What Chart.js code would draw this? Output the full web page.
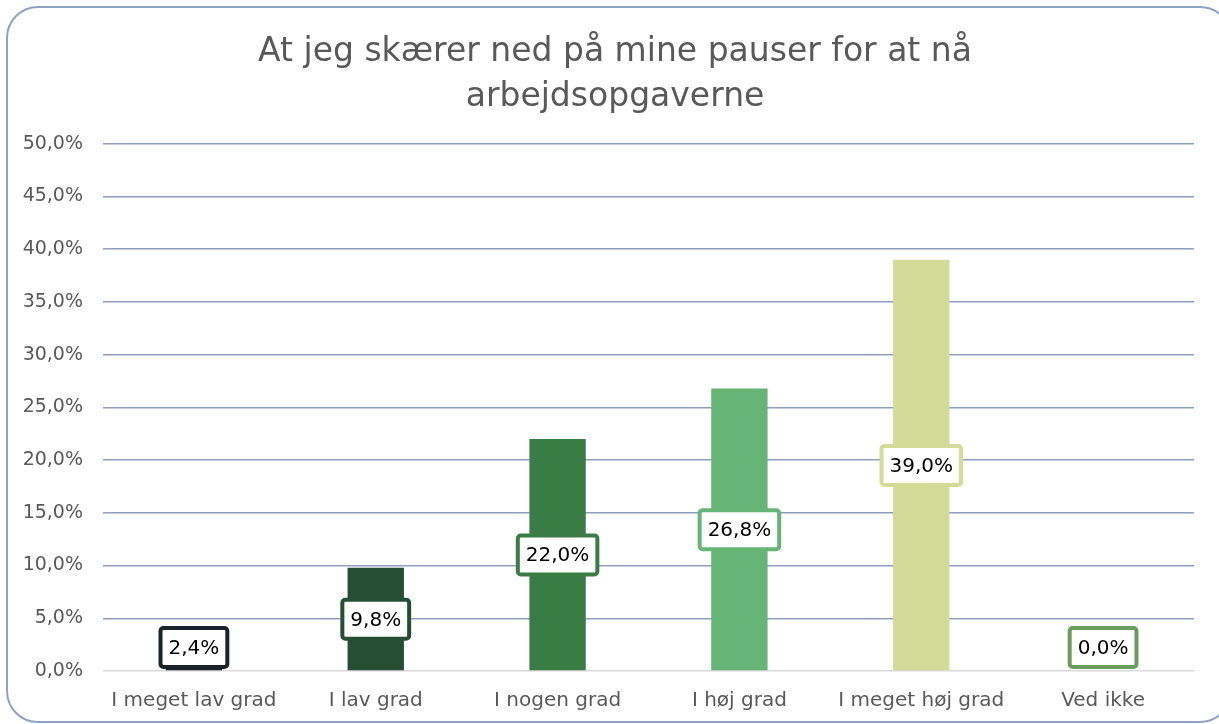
<!DOCTYPE html>
<html>
<head>
<meta charset="utf-8">
<script src="https://cdn.jsdelivr.net/npm/chart.js@4"></script>
<style>
  html, body { margin: 0; padding: 0; background: #fff; }
  #wrap { position: relative; width: 1219px; height: 724px; overflow: hidden; }
  #card {
    position: absolute; left: 6px; top: 6px; width: 1226px; height: 717px;
    border: 2px solid #8ea2c6; border-radius: 32px; box-sizing: border-box;
  }
  canvas { position: absolute; left: 0; top: 0; }
</style>
</head>
<body>
<div id="wrap">
  <div id="card"></div>
  <canvas id="chart" width="1219" height="724"></canvas>
</div>
<script>
// values
const titleLines = ['At jeg skærer ned på mine pauser for at nå', 'arbejdsopgaverne'];
const categories = ['I meget lav grad', 'I lav grad', 'I nogen grad', 'I høj grad', 'I meget høj grad', 'Ved ikke'];
const percents = [2.4, 9.8, 22.0, 26.8, 39.0, 0.0];
const barColors = ['#1c222c', '#254e32', '#3a7d44', '#67b576', '#d2dc97', '#6a9c5a'];

const FONT = "'DejaVu Sans', sans-serif";
const fmt = v => v.toFixed(1).replace('.', ',') + '%';

// white boxed labels with a border in the bar colour
const boxLabels = {
  id: 'boxLabels',
  afterLayout(chart) {
    // centre the title on the card rather than on the padded box
    const t = chart.titleBlock;
    if (t) { t.right = 1230; t.width = t.right - t.left; }
  },
  afterDatasetsDraw(chart) {
    const ctx = chart.ctx;
    const meta = chart.getDatasetMeta(0);
    const base = chart.scales.y.getPixelForValue(0);
    ctx.save();
    ctx.font = '20px ' + FONT;
    ctx.textAlign = 'center';
    ctx.textBaseline = 'middle';
    meta.data.forEach((bar, i) => {
      const txt = fmt(percents[i]);
      const w = ctx.measureText(txt).width + 16;
      const h = 39;
      let y = (bar.y + base) / 2;
      if (y > base - h / 2 - 4) y = base - h / 2 - 4;
      const x = bar.x;
      ctx.beginPath();
      ctx.roundRect(x - w / 2, y - h / 2, w, h, 3);
      ctx.fillStyle = '#ffffff';
      ctx.fill();
      ctx.lineWidth = 4;
      ctx.strokeStyle = barColors[i];
      ctx.stroke();
      ctx.fillStyle = '#000000';
      ctx.fillText(txt, x, y + 1);
    });
    ctx.restore();
  }
};

new Chart(document.getElementById('chart'), {
  type: 'bar',
  data: {
    labels: categories,
    datasets: [{
      data: percents,
      backgroundColor: barColors,
      categoryPercentage: 1,
      barPercentage: 0.31
    }]
  },
  options: {
    responsive: false,
    animation: false,
    layout: { padding: { left: 0, right: 25, top: 16, bottom: 1 } },
    plugins: {
      legend: { display: false },
      tooltip: { enabled: false },
      title: {
        display: true,
        text: titleLines,
        color: '#595959',
        font: { family: FONT, size: 33, weight: 'normal', lineHeight: 1.36 },
        padding: { top: 14, bottom: 24 }
      }
    },
    scales: {
      x: {
        grid: { display: false },
        border: { display: false },
        ticks: { color: '#595959', font: { family: FONT, size: 20 }, padding: 10 }
      },
      y: {
        min: 0, max: 50,
        ticks: {
          stepSize: 5,
          color: '#595959',
          font: { family: FONT, size: 19 },
          padding: 20,
          callback: v => fmt(v)
        },
        grid: {
          drawTicks: false,
          lineWidth: 1.5,
          color: c => c.tick.value === 0 ? '#d9d9d9' : '#8e9ebe'
        },
        border: { display: false },
        afterFit: s => { s.width = 103; }
      }
    }
  },
  plugins: [boxLabels]
});
</script>
</body>
</html>
